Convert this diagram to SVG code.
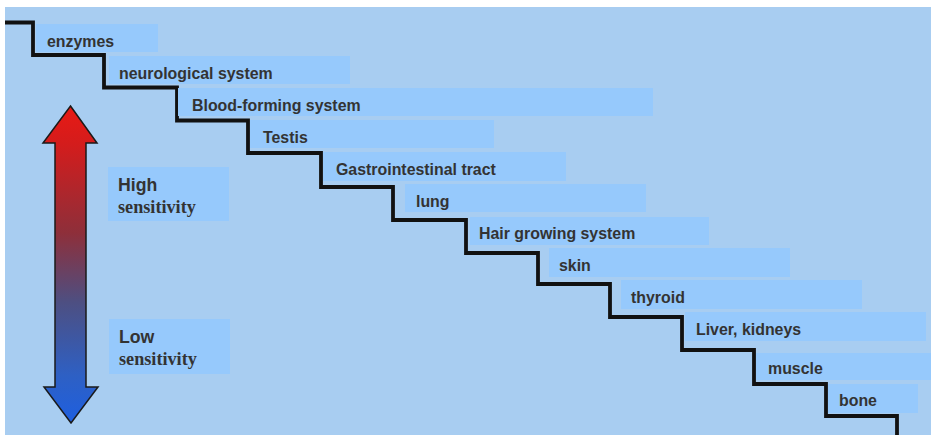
<svg xmlns="http://www.w3.org/2000/svg" width="931" height="435" viewBox="0 0 931 435">
<style>
.lbl{fill:#96c9fc}
.t{font-family:"Liberation Sans",Arial,sans-serif;font-weight:bold;font-size:15.9px;fill:#333333}
.h{font-family:"Liberation Sans",Arial,sans-serif;font-weight:bold;font-size:17.7px;fill:#333333}
.s{font-family:"Liberation Serif","Times New Roman",serif;font-weight:bold;font-size:18.2px;fill:#333333}
</style>
<defs>
<linearGradient id="grad" x1="0" y1="106" x2="0" y2="423" gradientUnits="userSpaceOnUse">
<stop offset="0" stop-color="#e81a14"/>
<stop offset="0.12" stop-color="#d41c1c"/>
<stop offset="0.4" stop-color="#8e2f3a"/>
<stop offset="0.62" stop-color="#4d4f82"/>
<stop offset="0.85" stop-color="#2e60c4"/>
<stop offset="1" stop-color="#1e5fe0"/>
</linearGradient>
</defs>
<rect x="0" y="0" width="931" height="435" fill="#ffffff"/>
<rect x="5" y="7" width="926" height="428" fill="#a8cdf1"/>

<g id="connectors">
<path d="M5,22.5 H33 V55 H104 V87.5 H177 V120.5 H248 V153 H321 V187 H393 V220 H466 V253 H538 V284 H610 V317 H682 V350 H754 V384 H826 V416 H897 V435" fill="none" stroke="#111111" stroke-width="3.8"/>
</g>

<g id="arrow">
<path d="M70.5,106 L97,143 L86,143 L86,387 L98,387 L71,423 L44,387 L55,387 L55,143 L43,143 Z" fill="url(#grad)" stroke="#1a1a1a" stroke-width="1.5" stroke-linejoin="miter"/>
</g>

<g id="high">
<rect class="lbl" x="108" y="167" width="121" height="54"/>
<text class="h" x="118" y="191">High</text>
<text class="s" x="118" y="213">sensitivity</text>
</g>
<g id="low">
<rect class="lbl" x="109" y="319" width="121" height="55"/>
<text class="h" x="119" y="343">Low</text>
<text class="s" x="119" y="365">sensitivity</text>
</g>

<g id="enzymes"><rect class="lbl" x="36" y="24" width="122" height="28"/><text class="t" x="47" y="47">enzymes</text></g>
<g id="neurological"><rect class="lbl" x="109" y="56" width="241" height="28"/><text class="t" x="119" y="79">neurological system</text></g>
<g id="blood"><rect class="lbl" x="178" y="88" width="475" height="28"/><text class="t" x="192" y="111">Blood-forming system</text></g>
<g id="testis"><rect class="lbl" x="250" y="120" width="244" height="28"/><text class="t" x="263" y="143">Testis</text></g>
<g id="gastro"><rect class="lbl" x="323" y="152" width="243" height="29"/><text class="t" x="336" y="175">Gastrointestinal tract</text></g>
<g id="lung"><rect class="lbl" x="405" y="184" width="241" height="28"/><text class="t" x="416" y="207">lung</text></g>
<g id="hair"><rect class="lbl" x="470" y="217" width="239" height="28"/><text class="t" x="479" y="239">Hair growing system</text></g>
<g id="skin"><rect class="lbl" x="549" y="248" width="241" height="29"/><text class="t" x="559" y="271">skin</text></g>
<g id="thyroid"><rect class="lbl" x="621" y="280" width="241" height="29"/><text class="t" x="631" y="303">thyroid</text></g>
<g id="liver"><rect class="lbl" x="685" y="312" width="241" height="29"/><text class="t" x="696" y="335">Liver, kidneys</text></g>
<g id="muscle"><rect class="lbl" x="756" y="353" width="175" height="27"/><text class="t" x="768" y="374">muscle</text></g>
<g id="bone"><rect class="lbl" x="828" y="384" width="90" height="29"/><text class="t" x="839" y="406">bone</text></g>
</svg>
